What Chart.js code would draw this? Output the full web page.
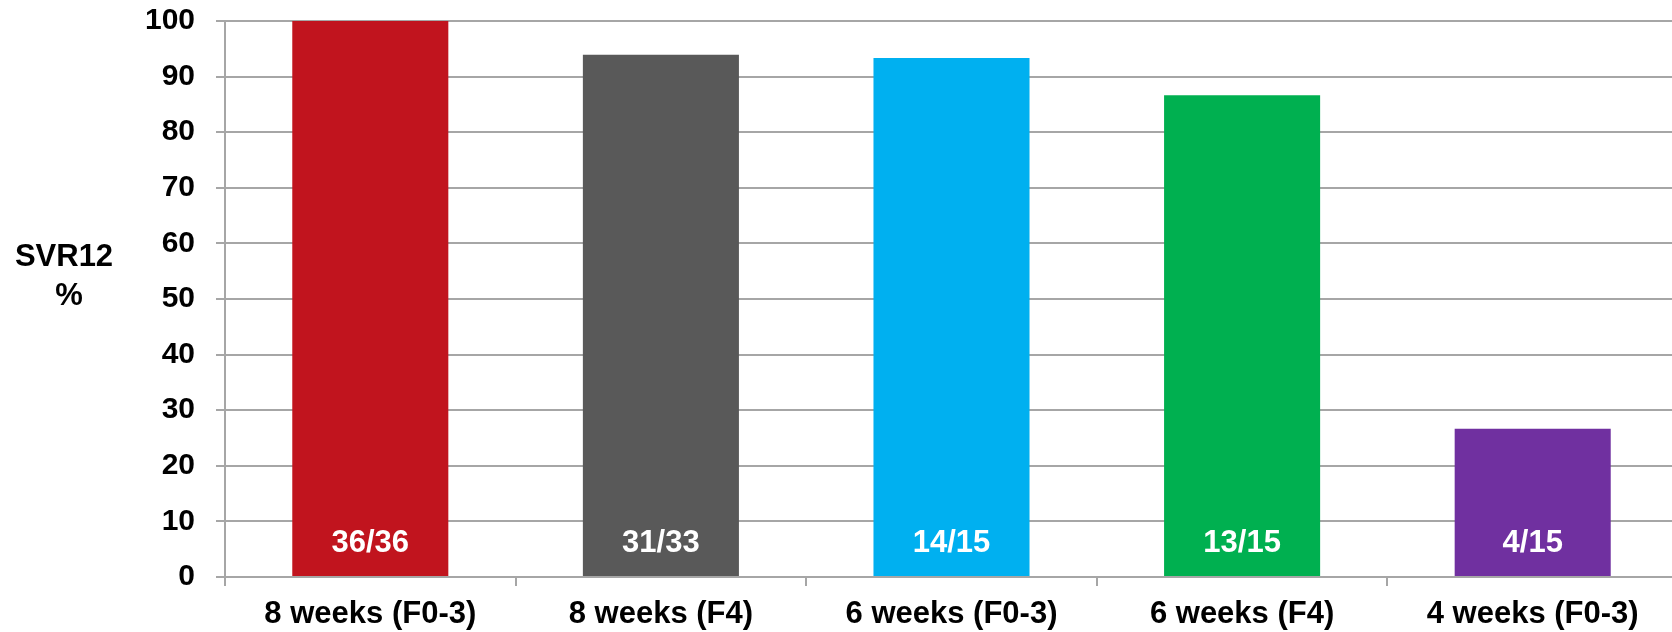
<!DOCTYPE html>
<html>
<head>
<meta charset="utf-8">
<script src="https://cdn.jsdelivr.net/npm/chart.js@4"></script>
<style>
  html, body { margin: 0; padding: 0; background: #ffffff; overflow: hidden; }
  #wrap { position: relative; width: 1678px; height: 632px; }
</style>
</head>
<body>
<div id="wrap"><canvas id="chart"></canvas></div>
<script>
// Treatment arms and SVR12 outcomes (responders / enrolled)
const categories = ['8 weeks (F0-3)', '8 weeks (F4)', '6 weeks (F0-3)', '6 weeks (F4)', '4 weeks (F0-3)'];
const responders = [36, 31, 14, 13, 4];
const enrolled = [36, 33, 15, 15, 15];
const barColors = ['#C1141E', '#595959', '#00B0F0', '#00B050', '#7030A0'];
const yTicks = [0, 10, 20, 30, 40, 50, 60, 70, 80, 90, 100];
const axisTitle = ['SVR12', '%'];

const svrPercent = responders.map((r, i) => r / enrolled[i] * 100);
const fractionLabels = responders.map((r, i) => r + '/' + enrolled[i]);

const FONT = '"Liberation Sans", Arial, sans-serif';
const GRID = '#a6a6a6';

// Writes "n/N" inside the foot of each bar
const fractionPlugin = {
  id: 'fractionLabels',
  afterDatasetsDraw(chart) {
    const ctx = chart.ctx;
    const meta = chart.getDatasetMeta(0);
    const yScale = chart.scales.y;
    ctx.save();
    ctx.fillStyle = '#ffffff';
    ctx.font = 'bold 31px ' + FONT;
    ctx.textAlign = 'center';
    ctx.textBaseline = 'middle';
    meta.data.forEach((bar, i) => {
      ctx.fillText(fractionLabels[i], bar.x, yScale.getPixelForValue(0) - 34);
    });
    ctx.restore();
  }
};

// Horizontal two-line title beside the value axis
const axisTitlePlugin = {
  id: 'axisTitle',
  afterDraw(chart) {
    const ctx = chart.ctx;
    ctx.save();
    ctx.fillStyle = '#000000';
    ctx.font = 'bold 31px ' + FONT;
    ctx.textAlign = 'center';
    ctx.textBaseline = 'middle';
    ctx.fillText(axisTitle[0], 64, 257);
    ctx.fillText(axisTitle[1], 69, 296);
    ctx.restore();
  }
};

new Chart(document.getElementById('chart'), {
  type: 'bar',
  data: {
    labels: categories,
    datasets: [{
      data: svrPercent,
      backgroundColor: barColors,
      borderWidth: 0,
      barPercentage: 0.537,
      categoryPercentage: 1.0
    }]
  },
  options: {
    responsive: true,
    maintainAspectRatio: false,
    animation: false,
    layout: { padding: { top: 21, right: 0, left: 0, bottom: 0 } },
    plugins: {
      legend: { display: false },
      tooltip: { enabled: false }
    },
    scales: {
      x: {
        grid: {
          offset: true,
          drawOnChartArea: false,
          drawTicks: true,
          tickLength: 9,
          color: GRID,
          lineWidth: 2
        },
        border: { color: GRID, width: 2 },
        ticks: {
          color: '#000000',
          font: { family: FONT, size: 31, weight: 'bold' },
          padding: 10,
          maxRotation: 0,
          autoSkip: false
        },
        afterFit(scale) {
          scale.height = 55;
          scale.paddingLeft = 0;
          scale.paddingRight = 0;
        }
      },
      y: {
        min: 0,
        max: 100,
        afterBuildTicks(scale) { scale.ticks = yTicks.map(v => ({ value: v })); },
        grid: {
          color: GRID,
          lineWidth: 2,
          tickLength: 9
        },
        border: { color: GRID, width: 2 },
        ticks: {
          color: '#000000',
          font: { family: FONT, size: 30, weight: 'bold' },
          padding: 21
        },
        afterFit(scale) {
          scale.width = 225;
          scale.paddingTop = 0;
          scale.paddingBottom = 0;
        }
      }
    }
  },
  plugins: [fractionPlugin, axisTitlePlugin]
});
</script>
</body>
</html>
